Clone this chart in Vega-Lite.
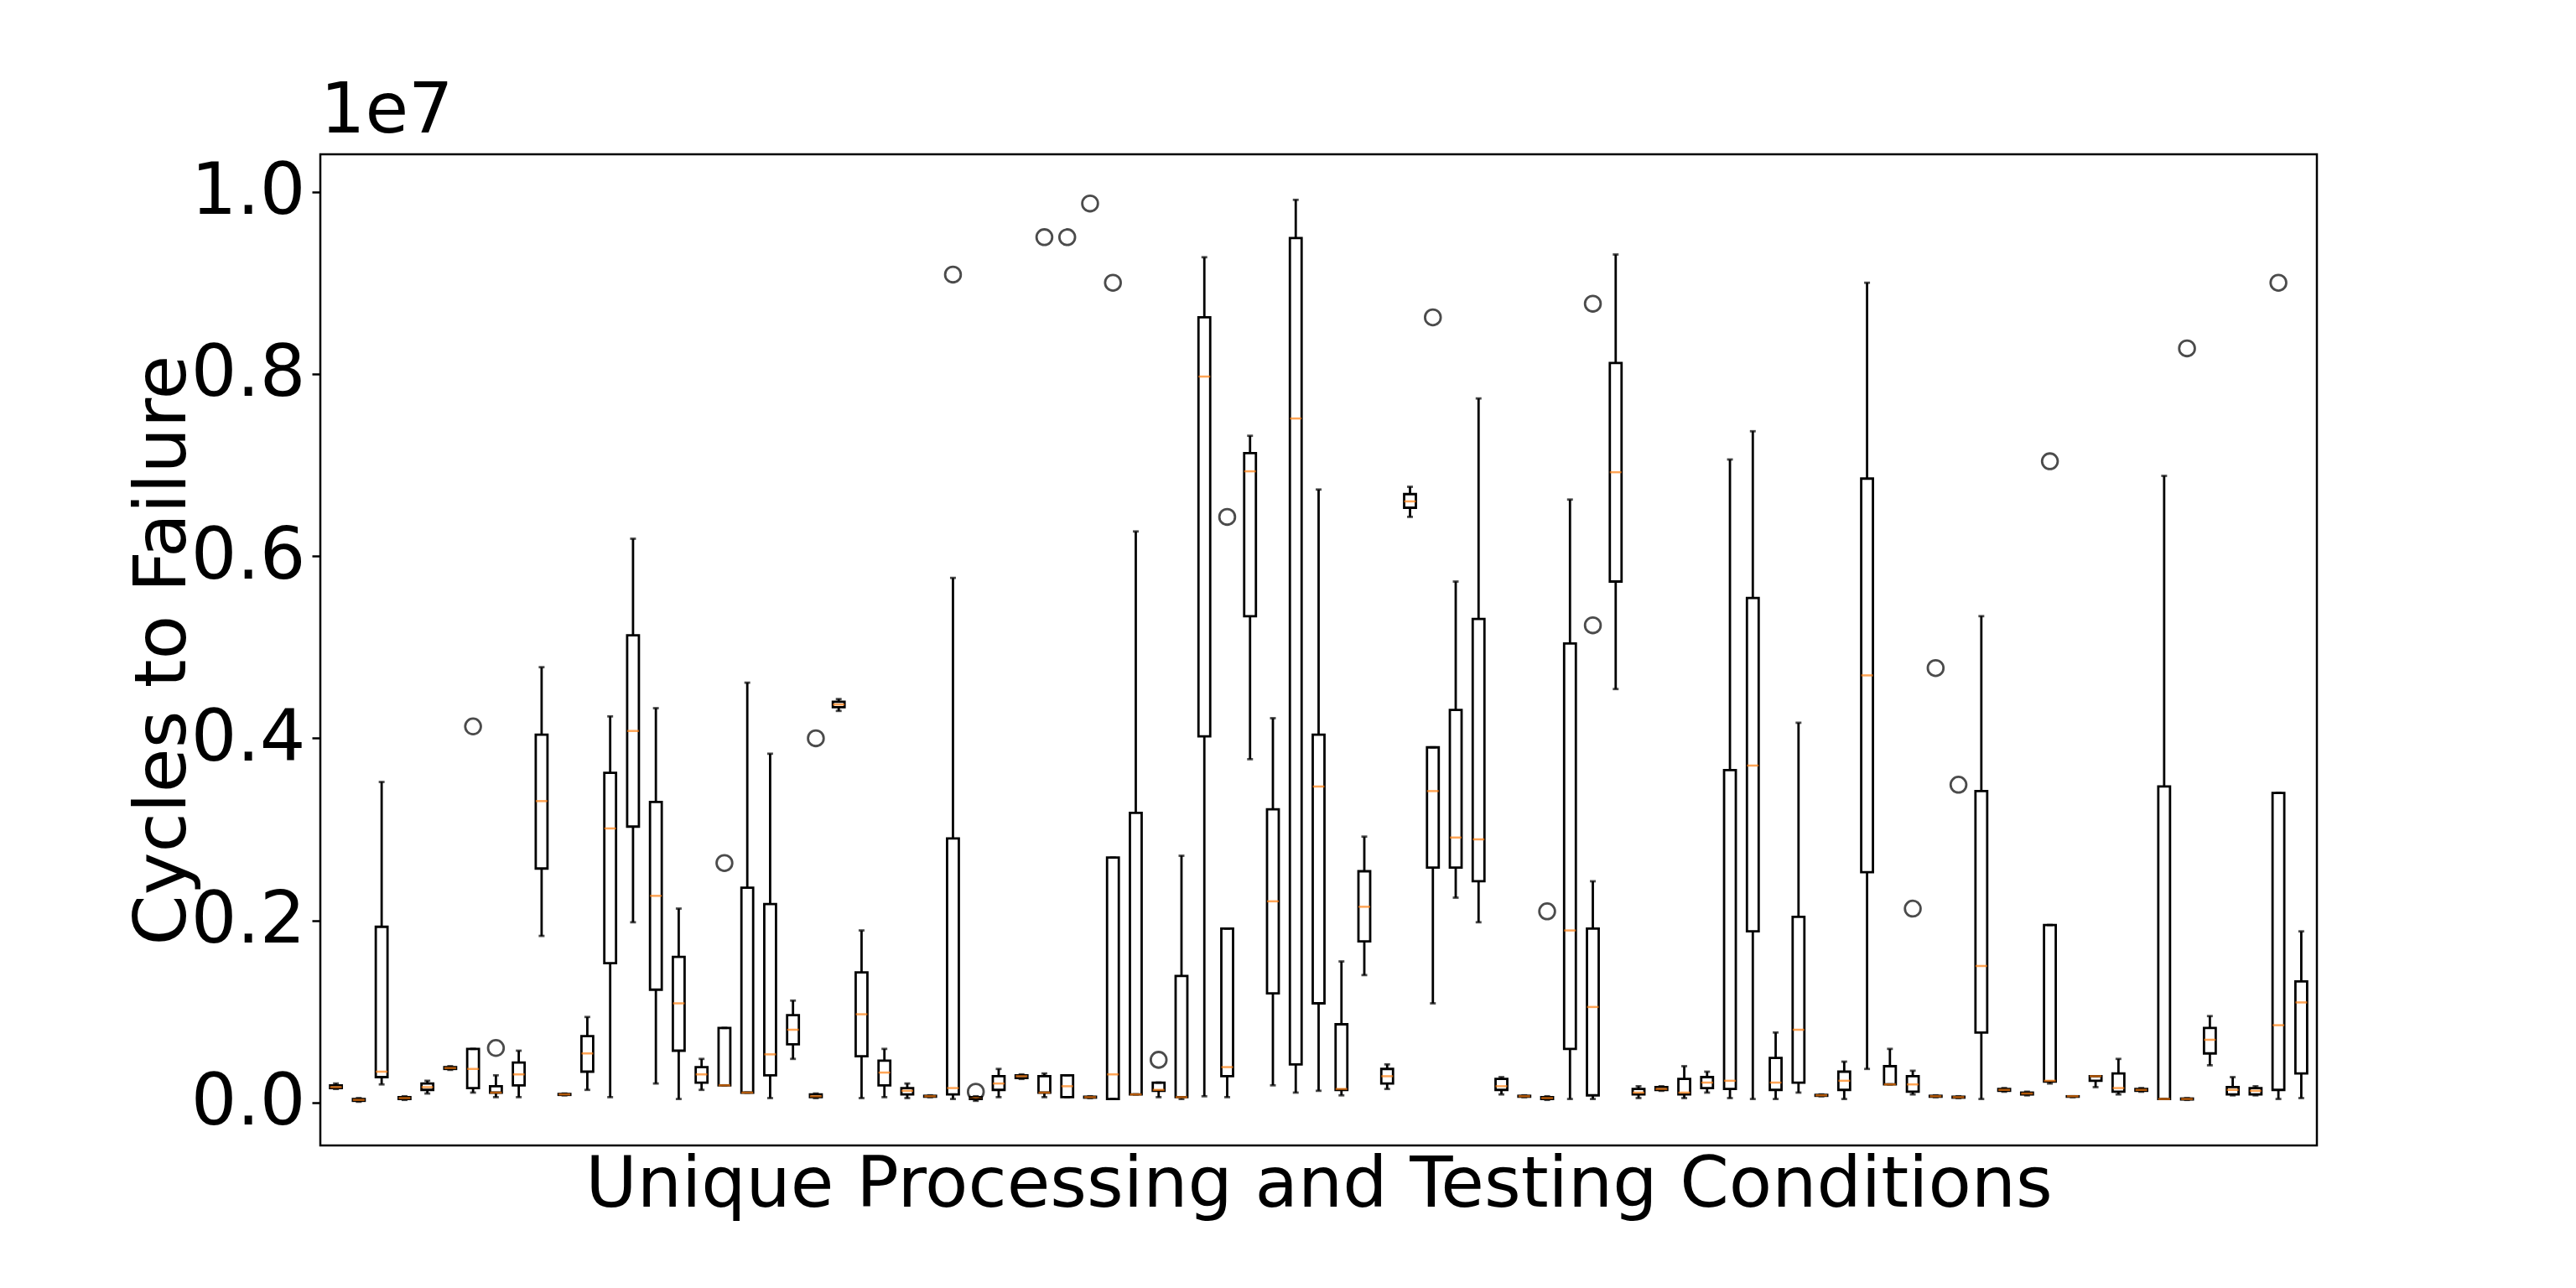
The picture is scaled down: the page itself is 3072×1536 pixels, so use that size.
{
  "$schema": "https://vega.github.io/schema/vega-lite/v6.json",
  "autosize": "none",
  "width": 2381, "height": 1182,
  "padding": {"left": 382, "top": 184, "right": 309, "bottom": 170},
  "background": "white",
  "config": {
    "font": "DejaVu Sans",
    "view": {"stroke": "black", "strokeWidth": 2.5},
    "axis": {"grid": false}
  },
  "title": {"text": "1e7", "anchor": "start", "frame": "group", "fontSize": 84, "fontWeight": "normal", "font": "DejaVu Sans", "offset": 8, "color": "black"},
  "datasets": {
    "boxes": [
      {"i":1,"lo":0.15,"q1":0.16,"med":0.17,"q3":0.19,"hi":0.21},
      {"i":2,"lo":0.01,"q1":0.02,"med":0.03,"q3":0.04,"hi":0.05},
      {"i":3,"lo":0.2,"q1":0.28,"med":0.34,"q3":1.93,"hi":3.52},
      {"i":4,"lo":0.03,"q1":0.04,"med":0.05,"q3":0.06,"hi":0.07},
      {"i":5,"lo":0.1,"q1":0.14,"med":0.17,"q3":0.21,"hi":0.24},
      {"i":6,"lo":0.36,"q1":0.37,"med":0.38,"q3":0.39,"hi":0.4},
      {"i":7,"lo":0.11,"q1":0.16,"med":0.37,"q3":0.59,"hi":0.59},
      {"i":8,"lo":0.06,"q1":0.11,"med":0.11,"q3":0.18,"hi":0.3},
      {"i":9,"lo":0.06,"q1":0.19,"med":0.31,"q3":0.44,"hi":0.57},
      {"i":10,"lo":1.83,"q1":2.57,"med":3.31,"q3":4.04,"hi":4.78},
      {"i":11,"lo":0.08,"q1":0.085,"med":0.09,"q3":0.095,"hi":0.1},
      {"i":12,"lo":0.14,"q1":0.34,"med":0.54,"q3":0.73,"hi":0.94},
      {"i":13,"lo":0.06,"q1":1.53,"med":3.01,"q3":3.62,"hi":4.24},
      {"i":14,"lo":1.98,"q1":3.03,"med":4.08,"q3":5.13,"hi":6.19},
      {"i":15,"lo":0.21,"q1":1.24,"med":2.27,"q3":3.3,"hi":4.33},
      {"i":16,"lo":0.04,"q1":0.57,"med":1.09,"q3":1.6,"hi":2.13},
      {"i":17,"lo":0.14,"q1":0.22,"med":0.31,"q3":0.39,"hi":0.48},
      {"i":18,"lo":0.19,"q1":0.19,"med":0.19,"q3":0.82,"hi":0.82},
      {"i":19,"lo":0.11,"q1":0.11,"med":0.11,"q3":2.36,"hi":4.61},
      {"i":20,"lo":0.05,"q1":0.3,"med":0.53,"q3":2.18,"hi":3.83},
      {"i":21,"lo":0.48,"q1":0.64,"med":0.8,"q3":0.96,"hi":1.12},
      {"i":22,"lo":0.05,"q1":0.06,"med":0.07,"q3":0.09,"hi":0.1},
      {"i":23,"lo":4.3,"q1":4.34,"med":4.37,"q3":4.4,"hi":4.43},
      {"i":24,"lo":0.05,"q1":0.51,"med":0.97,"q3":1.43,"hi":1.89},
      {"i":25,"lo":0.06,"q1":0.19,"med":0.33,"q3":0.46,"hi":0.59},
      {"i":26,"lo":0.05,"q1":0.09,"med":0.13,"q3":0.16,"hi":0.21},
      {"i":27,"lo":0.06,"q1":0.065,"med":0.07,"q3":0.075,"hi":0.08},
      {"i":28,"lo":0.04,"q1":0.09,"med":0.16,"q3":2.9,"hi":5.76},
      {"i":29,"lo":0.02,"q1":0.04,"med":0.05,"q3":0.06,"hi":0.07},
      {"i":30,"lo":0.06,"q1":0.14,"med":0.21,"q3":0.29,"hi":0.37},
      {"i":31,"lo":0.26,"q1":0.27,"med":0.29,"q3":0.3,"hi":0.31},
      {"i":32,"lo":0.06,"q1":0.11,"med":0.11,"q3":0.29,"hi":0.32},
      {"i":33,"lo":0.06,"q1":0.06,"med":0.18,"q3":0.3,"hi":0.3},
      {"i":34,"lo":0.05,"q1":0.055,"med":0.06,"q3":0.065,"hi":0.07},
      {"i":35,"lo":0.04,"q1":0.04,"med":0.31,"q3":2.69,"hi":2.69},
      {"i":36,"lo":0.09,"q1":0.09,"med":0.09,"q3":3.18,"hi":6.27},
      {"i":37,"lo":0.06,"q1":0.13,"med":0.14,"q3":0.22,"hi":0.22},
      {"i":38,"lo":0.04,"q1":0.06,"med":0.06,"q3":1.39,"hi":2.71},
      {"i":39,"lo":0.07,"q1":4.02,"med":7.97,"q3":8.62,"hi":9.28},
      {"i":40,"lo":0.06,"q1":0.29,"med":0.39,"q3":1.91,"hi":1.91},
      {"i":41,"lo":3.77,"q1":5.34,"med":6.93,"q3":7.13,"hi":7.32},
      {"i":42,"lo":0.19,"q1":1.2,"med":2.21,"q3":3.22,"hi":4.22},
      {"i":43,"lo":0.11,"q1":0.42,"med":7.51,"q3":9.49,"hi":9.91},
      {"i":44,"lo":0.13,"q1":1.09,"med":3.47,"q3":4.04,"hi":6.73},
      {"i":45,"lo":0.08,"q1":0.14,"med":0.15,"q3":0.86,"hi":1.55},
      {"i":46,"lo":1.4,"q1":1.77,"med":2.15,"q3":2.54,"hi":2.92},
      {"i":47,"lo":0.15,"q1":0.21,"med":0.29,"q3":0.37,"hi":0.42},
      {"i":48,"lo":6.43,"q1":6.53,"med":6.6,"q3":6.68,"hi":6.76},
      {"i":49,"lo":1.09,"q1":2.58,"med":3.42,"q3":3.9,"hi":3.9},
      {"i":50,"lo":2.25,"q1":2.58,"med":2.91,"q3":4.31,"hi":5.72},
      {"i":51,"lo":1.98,"q1":2.43,"med":2.89,"q3":5.31,"hi":7.73},
      {"i":52,"lo":0.09,"q1":0.14,"med":0.18,"q3":0.26,"hi":0.28},
      {"i":53,"lo":0.06,"q1":0.065,"med":0.07,"q3":0.075,"hi":0.08},
      {"i":54,"lo":0.03,"q1":0.04,"med":0.05,"q3":0.06,"hi":0.07},
      {"i":55,"lo":0.04,"q1":0.59,"med":1.89,"q3":5.04,"hi":6.62},
      {"i":56,"lo":0.04,"q1":0.08,"med":1.05,"q3":1.91,"hi":2.43},
      {"i":57,"lo":4.54,"q1":5.72,"med":6.92,"q3":8.12,"hi":9.31},
      {"i":58,"lo":0.05,"q1":0.09,"med":0.11,"q3":0.15,"hi":0.18},
      {"i":59,"lo":0.13,"q1":0.14,"med":0.15,"q3":0.17,"hi":0.18},
      {"i":60,"lo":0.05,"q1":0.09,"med":0.11,"q3":0.26,"hi":0.4},
      {"i":61,"lo":0.11,"q1":0.16,"med":0.22,"q3":0.28,"hi":0.34},
      {"i":62,"lo":0.05,"q1":0.15,"med":0.24,"q3":3.65,"hi":7.06},
      {"i":63,"lo":0.04,"q1":1.88,"med":3.7,"q3":5.54,"hi":7.37},
      {"i":64,"lo":0.04,"q1":0.14,"med":0.22,"q3":0.49,"hi":0.77},
      {"i":65,"lo":0.11,"q1":0.22,"med":0.8,"q3":2.04,"hi":4.17},
      {"i":66,"lo":0.07,"q1":0.075,"med":0.08,"q3":0.085,"hi":0.09},
      {"i":67,"lo":0.04,"q1":0.14,"med":0.24,"q3":0.34,"hi":0.45},
      {"i":68,"lo":0.37,"q1":2.53,"med":4.69,"q3":6.85,"hi":9.0},
      {"i":69,"lo":0.2,"q1":0.2,"med":0.2,"q3":0.4,"hi":0.59},
      {"i":70,"lo":0.09,"q1":0.12,"med":0.2,"q3":0.29,"hi":0.35},
      {"i":71,"lo":0.06,"q1":0.065,"med":0.07,"q3":0.075,"hi":0.08},
      {"i":72,"lo":0.05,"q1":0.055,"med":0.06,"q3":0.065,"hi":0.07},
      {"i":73,"lo":0.04,"q1":0.77,"med":1.5,"q3":3.42,"hi":5.34},
      {"i":74,"lo":0.12,"q1":0.13,"med":0.14,"q3":0.15,"hi":0.16},
      {"i":75,"lo":0.08,"q1":0.09,"med":0.1,"q3":0.11,"hi":0.12},
      {"i":76,"lo":0.21,"q1":0.23,"med":0.24,"q3":1.95,"hi":1.95},
      {"i":77,"lo":0.06,"q1":0.065,"med":0.07,"q3":0.07,"hi":0.07},
      {"i":78,"lo":0.17,"q1":0.24,"med":0.29,"q3":0.29,"hi":0.29},
      {"i":79,"lo":0.09,"q1":0.12,"med":0.16,"q3":0.32,"hi":0.48},
      {"i":80,"lo":0.12,"q1":0.13,"med":0.14,"q3":0.15,"hi":0.16},
      {"i":81,"lo":0.04,"q1":0.04,"med":0.04,"q3":3.47,"hi":6.88},
      {"i":82,"lo":0.03,"q1":0.035,"med":0.04,"q3":0.045,"hi":0.05},
      {"i":83,"lo":0.41,"q1":0.54,"med":0.69,"q3":0.82,"hi":0.95},
      {"i":84,"lo":0.08,"q1":0.09,"med":0.14,"q3":0.17,"hi":0.28},
      {"i":85,"lo":0.08,"q1":0.09,"med":0.13,"q3":0.16,"hi":0.18},
      {"i":86,"lo":0.04,"q1":0.14,"med":0.85,"q3":3.4,"hi":3.4},
      {"i":87,"lo":0.05,"q1":0.32,"med":1.1,"q3":1.33,"hi":1.88}
    ],
    "fliers": [
      {"i":7,"v":4.13},{"i":8,"v":0.6},{"i":18,"v":2.63},{"i":22,"v":4.0},
      {"i":28,"v":9.09},{"i":29,"v":0.12},{"i":32,"v":9.5},{"i":33,"v":9.5},
      {"i":34,"v":9.87},{"i":35,"v":9.0},{"i":37,"v":0.47},{"i":40,"v":6.43},
      {"i":49,"v":8.62},{"i":54,"v":2.1},{"i":56,"v":5.24},{"i":56,"v":8.77},
      {"i":70,"v":2.13},{"i":71,"v":4.77},{"i":72,"v":3.49},{"i":76,"v":7.04},
      {"i":82,"v":8.28},{"i":86,"v":9.0}
    ]
  },
  "encoding": {
    "x": {"field": "i", "type": "quantitative",
      "scale": {"domain": [0.5, 87.5], "nice": false, "zero": false},
      "axis": {"title": "Unique Processing and Testing Conditions", "labels": false, "ticks": false, "domain": false,
        "titleFontSize": 84, "titleFontWeight": "normal", "titleColor": "black", "titlePadding": 6}}
  },
  "layer": [
    {
      "data": {"name": "boxes"},
      "mark": {"type": "rule", "color": "black", "strokeWidth": 2.8},
      "encoding": {
        "y": {"field": "lo", "type": "quantitative",
          "scale": {"domain": [-0.47, 10.41], "nice": false, "zero": false},
          "axis": {"title": "Cycles to Failure", "values": [0, 2, 4, 6, 8, 10],
            "labelExpr": "format(datum.value / 10, '.1f')",
            "labelFontSize": 86, "labelColor": "black", "tickSize": 10, "tickWidth": 2.5, "tickColor": "black",
            "labelPadding": 8, "domain": false,
            "titleFontSize": 86, "titleFontWeight": "normal", "titleColor": "black",
            "titleX": -188, "titleY": 591, "titleAlign": "center", "titleBaseline": "middle", "titleAngle": -90}},
        "y2": {"field": "hi"}
      }
    },
    {
      "data": {"name": "boxes"},
      "mark": {"type": "bar", "size": 14, "fill": "white", "stroke": "black", "strokeWidth": 2.8},
      "encoding": {
        "y": {"field": "q1", "type": "quantitative"},
        "y2": {"field": "q3"}
      }
    },
    {
      "data": {"name": "boxes"},
      "mark": {"type": "tick", "orient": "horizontal", "size": 7, "thickness": 2.8, "color": "black"},
      "encoding": {"y": {"field": "lo", "type": "quantitative"}}
    },
    {
      "data": {"name": "boxes"},
      "mark": {"type": "tick", "orient": "horizontal", "size": 7, "thickness": 2.8, "color": "black"},
      "encoding": {"y": {"field": "hi", "type": "quantitative"}}
    },
    {
      "data": {"name": "boxes"},
      "mark": {"type": "tick", "orient": "horizontal", "size": 14, "thickness": 2.5, "color": "#ff7f0e"},
      "encoding": {"y": {"field": "med", "type": "quantitative"}}
    },
    {
      "data": {"name": "fliers"},
      "mark": {"type": "point", "shape": "circle", "filled": false, "size": 350, "stroke": "black", "strokeWidth": 2.8},
      "encoding": {"y": {"field": "v", "type": "quantitative"}}
    }
  ]
}
